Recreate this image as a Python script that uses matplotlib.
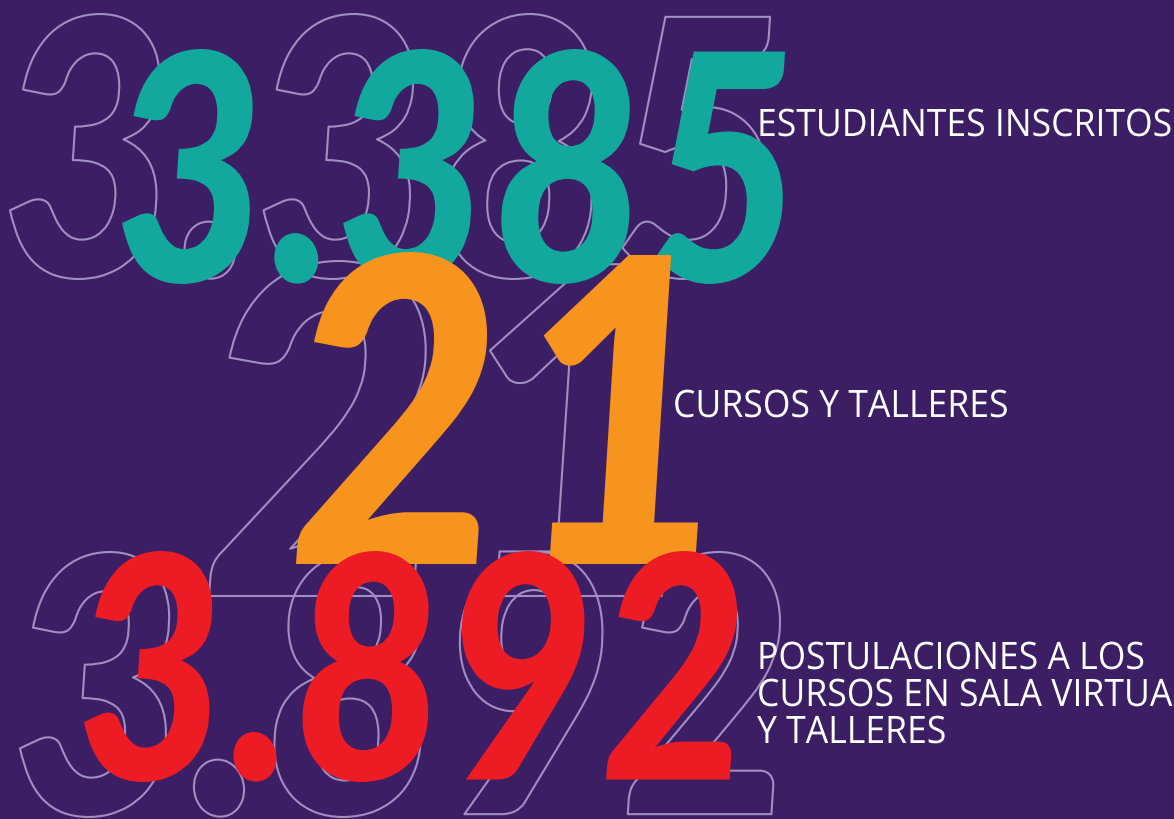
import matplotlib
matplotlib.use("Agg")
import matplotlib.pyplot as plt
from matplotlib.textpath import TextPath
from matplotlib.font_manager import FontProperties
from matplotlib.transforms import Affine2D
from matplotlib.patheffects import AbstractPathEffect

# ---- data ----
values = ["3.385", "21", "3.892"]
labels = [
    ["ESTUDIANTES INSCRITOS"],
    ["CURSOS Y TALLERES"],
    ["POSTULACIONES A LOS", "CURSOS EN SALA VIRTUAL", "Y TALLERES"],
]
fill_colors = ["#12a89d", "#f7941d", "#ed1c24"]

# ---- style / layout ----
BG = "#3c1e64"
OUTLINE = "#a18fc2"
W, H = 1174, 820
# boxes in pixel coords: left, top, right, bottom
fill_boxes = [(122, 50, 785, 285), (296, 253, 698, 565), (84, 552, 737, 783)]
outline_boxes = [(10, 15, 770, 280), (209, 262, 665, 597), (20, 553, 780, 818)]
label_pos = [(757, [137]), (673, [418]), (757, [670, 707, 744])]
SKEW_DEG = -3.0

fig = plt.figure(figsize=(W / 100, H / 100), dpi=100)
fig.patch.set_facecolor(BG)
ax = fig.add_axes([0, 0, 1, 1])
ax.set_facecolor(BG)
ax.set_xlim(0, W)
ax.set_ylim(H, 0)
ax.axis("off")


class Warp(AbstractPathEffect):
    """Draw the text path with an extra display-space transform."""

    def __init__(self, tr, fill=True, edgecolor=None, lw=0.0):
        super().__init__()
        self.tr, self.fill, self.edgecolor, self.lw = tr, fill, edgecolor, lw

    def draw_path(self, renderer, gc, tpath, affine, rgbFace=None):
        gc0 = renderer.new_gc()
        gc0.copy_properties(gc)
        if self.edgecolor is not None:
            gc0.set_foreground(self.edgecolor)
            gc0.set_linewidth(self.lw)
        else:
            gc0.set_linewidth(0)
        renderer.draw_path(gc0, tpath, affine + self.tr,
                           rgbFace if self.fill else None)
        gc0.restore()


fp_num = FontProperties(family="Lato", weight="black", style="italic")
S_PX = 300.0  # glyph size in pixels


def fitted_text(s, box, color, outline):
    tp = TextPath((0, 0), s, prop=fp_num, size=S_PX)
    sk = Affine2D().skew_deg(SKEW_DEG, 0)
    ext = sk.transform_path(tp).get_extents()
    L, T, R, B = box
    sx = (R - L) / ext.width
    sy = (B - T) / ext.height
    ox = L - sx * ext.x0
    oy = (H - B) - sy * ext.y0  # display (bottom-origin)
    tr = (Affine2D().translate(-ox, -oy).skew_deg(SKEW_DEG, 0)
          .scale(sx, sy).translate(ox, oy))
    if outline:
        eff = Warp(tr, fill=False, edgecolor=OUTLINE, lw=1.5)
        z = 1
    else:
        eff = Warp(tr, fill=True)
        z = 3
    ax.text(ox, H - oy, s, fontproperties=fp_num, fontsize=S_PX * 72 / 100,
            color=color, ha="left", va="baseline", zorder=z,
            path_effects=[eff])


for s, box, c in zip(values, outline_boxes, fill_colors):
    fitted_text(s, box, c, outline=True)
for i, (s, box, c) in enumerate(zip(values, fill_boxes, fill_colors)):
    fitted_text(s, box, c, outline=False)

# labels: humanist sans, slightly condensed
fp_lab = FontProperties(family="Open Sans")
LAB_PX = 38.0
ref = TextPath((0, 0), labels[0][0], prop=fp_lab, size=LAB_PX).get_extents()
cap = TextPath((0, 0), "E", prop=fp_lab, size=LAB_PX).get_extents()
lab_sx = 410.0 / ref.width
lab_sy = 27.0 / cap.height
for lines, (x, ys) in zip(labels, label_pos):
    for line, y in zip(lines, ys):
        ox, oy = x, H - y
        tr = Affine2D().translate(-ox, -oy).scale(lab_sx, lab_sy).translate(ox, oy)
        ax.text(x, y, line, color="white", fontproperties=fp_lab,
                fontsize=LAB_PX * 72 / 100, va="baseline", ha="left",
                zorder=10, clip_on=False, path_effects=[Warp(tr, fill=True)])

fig.savefig("out.png", dpi=100, facecolor=BG)
